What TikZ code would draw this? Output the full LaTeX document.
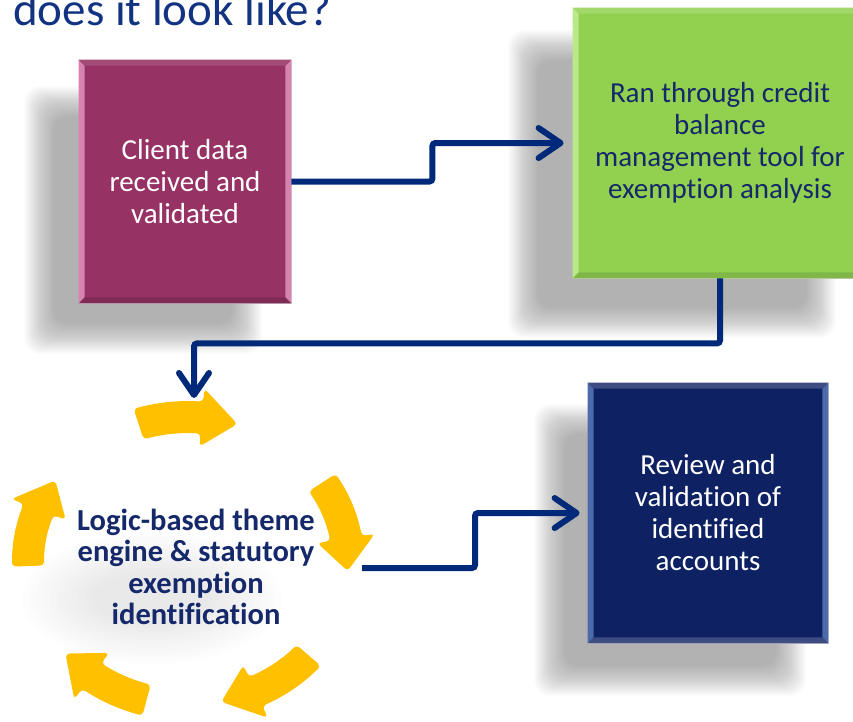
\documentclass[tikz,border=0pt]{standalone}
\usepackage{fontspec}
\setmainfont{Carlito}[Ligatures=NoCommon]
\usepackage{tikz}
\usetikzlibrary{arrows.meta,calc}
\definecolor{heading}{HTML}{123282}
\definecolor{plum}{HTML}{963264}
\definecolor{plumlite}{HTML}{D783B2}
\definecolor{leaf}{HTML}{92D050}
\definecolor{leaflite}{HTML}{BAE88A}
\definecolor{deepnavy}{HTML}{0E2263}
\definecolor{navylite}{HTML}{4D6AAB}
\definecolor{wire}{HTML}{00297A}
\definecolor{gold}{HTML}{FFC000}
\definecolor{ink}{HTML}{14286A}

\tikzset{
  card/.style={inner sep=0pt,draw=black!18,line width=0.8pt,align=center,
    font=\fontsize{29}{32}\selectfont},
  flow/.style={draw=wire,line width=6pt,rounded corners=3pt,
    -{Straight Barb[length=22pt,width=30pt,round]}},
}

% soft drop shadow: stacked translucent rectangles
\newcommand\softshadow[4]{%
  \foreach \k in {0,...,30}
    \fill[black,opacity=0.011,rounded corners=16pt]
      ({#1+\k},{#2+\k}) rectangle ({#3-\k},{#4-\k});}

% bevelled rim: light side strips, tinted top and bottom
\newcommand\bevel[4]{%
  \fill[#2] (#1.north west) -- (#1.south west) -- ($(#1.south west)+(6,-6)$)
    -- ($(#1.north west)+(6,6)$) -- cycle;
  \fill[#2] (#1.north east) -- (#1.south east) -- ($(#1.south east)+(-6,-6)$)
    -- ($(#1.north east)+(-6,6)$) -- cycle;
  \fill[#3] (#1.north west) -- (#1.north east) -- ($(#1.north east)+(-6,6)$)
    -- ($(#1.north west)+(6,6)$) -- cycle;
  \fill[#4] (#1.south west) -- (#1.south east) -- ($(#1.south east)+(-6,-6)$)
    -- ($(#1.south west)+(6,-6)$) -- cycle;}

\begin{document}
\begin{tikzpicture}[x=1pt,y=-1pt]
  \useasboundingbox (0,0) rectangle (853,721);

  % shadows first
  \softshadow{24}{86}{262}{354}
  \softshadow{508}{30}{836}{338}
  \softshadow{534}{404}{806}{696}
  \foreach \k in {0,...,10}
    \fill[black,opacity=0.009] (152,598) ellipse [x radius={130-7*\k}, y radius={66-4*\k}];

  \node[anchor=base west,inner sep=0pt,text=heading,font=\fontsize{47}{50}\selectfont]
    (title) at (13,25) {does it look like?};

  % the three process cards
  \node[card,fill=plum,minimum width=212pt,minimum height=243pt] (client) at (185,181.5) {};
  \node[card,fill=leaf,minimum width=294pt,minimum height=270pt] (creditTool) at (720,143) {};
  \node[card,fill=deepnavy,minimum width=240pt,minimum height=260pt] (review) at (708,513) {};
  \bevel{client}{plumlite}{plum!88!white}{plum!85!black}
  \bevel{creditTool}{leaflite}{leaf!85!white}{leaf!88!black}
  \bevel{review}{navylite}{deepnavy!80!white}{deepnavy!80!white}
  \node[card,draw=none,text=white] at (client) {Client data\\received and\\validated};
  \node[card,draw=none,text=ink] at (creditTool) {Ran through credit\\balance\\management tool for\\exemption analysis};
  \node[card,draw=none,text=white] at (review) {Review and\\validation of\\identified\\accounts};

  % cycle of five curved arrows around the engine
  \coordinate (loopTop) at (194,398);
  \coordinate (loopOut) at (362,568);
  \begin{scope}[shift={(188,561)}]
    \foreach \a/\b in {-108/-72,-33/4,41/78,105/140,178/214}{
      \pgfmathsetmacro\c{\b-13}
      \fill[gold,rounded corners=4pt]
        plot[domain=\a:\c,samples=12] (\x:176 and 160)
        -- (\c:189 and 173) -- (\b:160 and 144) -- (\c:131 and 115)
        -- plot[domain=\c:\a,samples=12] (\x:144 and 128) -- cycle;
    }
  \end{scope}
  \node[align=center,text=ink,font=\bfseries\fontsize{30.5}{31.3}\selectfont]
    (engine) at (196,567) {Logic-based theme\\engine \& statutory\\exemption\\identification};

  % connectors
  \draw[flow,shorten >=9pt] (client.east) -- ++(141,0) |- (creditTool.west);
  \draw[flow] (creditTool.south) -- ++(0,65) -| (loopTop);
  \draw[flow,shorten >=8pt] (loopOut) -- ++(113,0) |- (review.west);
\end{tikzpicture}
\end{document}
